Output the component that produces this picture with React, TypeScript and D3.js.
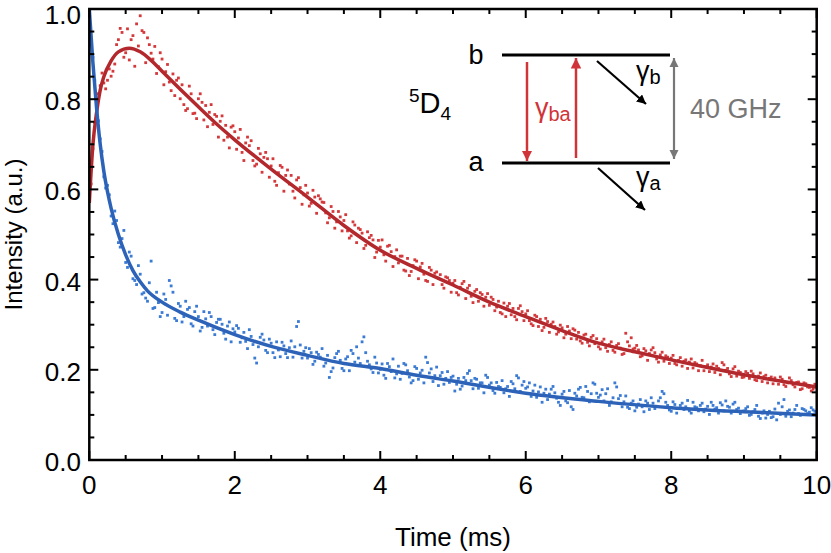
import React, { useRef, useEffect } from 'react';
import * as d3 from 'd3';

// sampling step of the measured traces (ms); second read-out is offset by half a step
const sampleStep = 0.05;

// measured intensity, level b (red), in thousandths, t = 0 .. 10 ms
const redScatter = [
  575, 690, 760, 830, 836, 842, 851, 878, 932, 948,
  903, 887, 941, 967, 985, 948, 936, 902, 917, 872,
  889, 861, 838, 856, 842, 801, 788, 779, 812, 769,
  801, 793, 786, 771, 744, 762, 751, 709, 716, 738,
  728, 714, 682, 703, 697, 664, 656, 679, 671, 668,
  652, 618, 637, 649, 631, 612, 596, 621, 604, 588,
  592, 569, 583, 586, 572, 548, 537, 551, 528, 539,
  531, 508, 497, 521, 514, 503, 476, 493, 488, 461,
  472, 455, 474, 462, 451, 437, 452, 419, 409, 431,
  441, 428, 412, 396, 421, 414, 403, 389, 406, 398,
  392, 371, 383, 396, 381, 363, 374, 352, 367, 361,
  343, 356, 339, 327, 348, 341, 322, 318, 336, 329,
  324, 309, 298, 318, 312, 294, 307, 301, 296, 284,
  293, 279, 286, 291, 268, 264, 277, 261, 272, 258,
  251, 262, 249, 256, 243, 254, 248, 236, 262, 271,
  248, 244, 231, 242, 236, 249, 224, 233, 219, 228,
  226, 214, 221, 208, 222, 217, 204, 213, 209, 198,
  211, 206, 194, 203, 216, 199, 191, 202, 186, 194,
  184, 192, 197, 178, 186, 174, 188, 181, 169, 176,
  184, 167, 171, 176, 162, 173, 158, 169, 161, 157,
  166,
];

// level b, read-out at t = 0.025 .. 9.975 ms
const redScatter2 = [
  612, 748, 812, 858, 823, 867, 862, 921, 957, 893,
  956, 932, 873, 918, 952, 881, 921, 889, 857, 903,
  832, 877, 819, 808, 847, 832, 775, 829, 768, 757,
  812, 754, 739, 788, 766, 716, 763, 742, 692, 741,
  689, 733, 664, 716, 708, 652, 691, 638, 682, 627,
  668, 609, 653, 596, 643, 631, 581, 626, 567, 609,
  563, 598, 547, 579, 571, 526, 562, 514, 551, 508,
  544, 492, 528, 482, 511, 469, 506, 498, 449, 487,
  488, 441, 476, 429, 466, 452, 421, 447, 418, 444,
  402, 436, 398, 427, 389, 417, 411, 381, 404, 372,
  398, 366, 391, 358, 387, 349, 378, 371, 341, 369,
  361, 331, 352, 324, 318, 347, 336, 311, 342, 309,
  331, 302, 321, 296, 287, 314, 283, 306, 279, 299,
  271, 296, 269, 288, 283, 259, 279, 253, 276, 269,
  246, 268, 241, 262, 239, 258, 234, 281, 253, 246,
  254, 229, 247, 221, 244, 238, 217, 239, 231, 214,
  232, 211, 227, 219, 203, 224, 216, 198, 221, 207,
  196, 213, 208, 189, 211, 203, 185, 207, 197, 183,
  196, 181, 191, 176, 193, 185, 171, 184, 182, 168,
  179, 163, 182, 167, 172, 156, 171, 162, 153, 168,
];

// measured intensity, level a (blue), in thousandths
const blueScatter = [
  985, 893, 771, 712, 628, 609, 541, 552, 482, 491,
  438, 461, 402, 389, 412, 371, 352, 441, 338, 349,
  327, 356, 398, 372, 309, 341, 318, 334, 302, 329,
  318, 294, 313, 327, 289, 305, 312, 281, 297, 262,
  284, 292, 271, 263, 289, 256, 215, 272, 266, 238,
  259, 227, 244, 261, 236, 249, 228, 296, 255, 241,
  226, 238, 219, 234, 247, 215, 183, 204, 236, 221,
  198, 229, 243, 217, 226, 262, 238, 211, 194, 215,
  201, 188, 214, 196, 182, 208, 192, 211, 184, 176,
  203, 193, 171, 216, 202, 187, 165, 194, 181, 172,
  186, 168, 157, 183, 192, 176, 181, 159, 171, 188,
  166, 154, 172, 161, 149, 163, 174, 158, 182, 166,
  159, 171, 153, 139, 162, 148, 134, 157, 149, 128,
  146, 131, 154, 112, 142, 161, 138, 152, 147, 168,
  139, 156, 147, 121, 138, 162, 143, 129, 117, 126,
  109, 124, 118, 131, 112, 126, 119, 138, 147, 121,
  108, 123, 114, 126, 118, 109, 128, 116, 121, 107,
  119, 128, 113, 104, 122, 131, 117, 124, 112, 103,
  109, 118, 101, 112, 97, 104, 93, 108, 96, 89,
  101, 134, 108, 96, 112, 103, 114, 109, 106, 111,
  104,
];

// level a, read-out at t = 0.025 .. 9.975 ms
const blueScatter2 = [
  927, 842, 752, 684, 603, 588, 524, 531, 472, 509,
  427, 452, 398, 431, 368, 359, 393, 336, 372, 318,
  368, 321, 386, 314, 347, 306, 352, 338, 297, 341,
  286, 329, 297, 318, 278, 312, 301, 268, 306, 291,
  298, 261, 283, 247, 274, 226, 251, 279, 243, 268,
  238, 262, 229, 253, 227, 264, 251, 307, 226, 249,
  247, 212, 239, 228, 208, 232, 196, 227, 241, 203,
  224, 198, 236, 251, 214, 273, 219, 202, 228, 193,
  213, 181, 207, 224, 191, 179, 214, 198, 171, 207,
  179, 199, 228, 193, 174, 206, 187, 168, 196, 183,
  153, 181, 164, 176, 198, 158, 179, 171, 149, 183,
  171, 148, 163, 176, 158, 141, 169, 187, 152, 174,
  162, 141, 166, 151, 128, 157, 146, 163, 137, 121,
  152, 127, 118, 148, 157, 139, 163, 129, 171, 148,
  144, 131, 158, 129, 171, 136, 118, 142, 114, 131,
  117, 134, 107, 126, 138, 114, 131, 152, 128, 111,
  129, 104, 121, 112, 132, 104, 118, 109, 126, 113,
  101, 121, 116, 127, 109, 119, 104, 128, 115, 108,
  114, 99, 107, 121, 92, 109, 101, 94, 113, 126,
  118, 97, 111, 104, 121, 99, 112, 103, 116, 108,
];

// fitted curves
const redFitT = [0, 0.05, 0.1, 0.15, 0.2, 0.3, 0.4, 0.55, 0.7, 0.85, 1, 1.25, 1.5, 1.75, 2, 2.5, 3, 3.5, 4, 4.5, 5, 5.5, 6, 6.5, 7, 7.5, 8, 8.5, 9, 9.5, 10];
const redFitV = [0.57, 0.7, 0.77, 0.82, 0.85, 0.885, 0.905, 0.913, 0.905, 0.886, 0.862, 0.822, 0.783, 0.745, 0.71, 0.645, 0.583, 0.52, 0.465, 0.425, 0.388, 0.35, 0.318, 0.287, 0.259, 0.24, 0.222, 0.205, 0.189, 0.175, 0.162];
const blueFitT = [0, 0.05, 0.1, 0.15, 0.2, 0.25, 0.3, 0.4, 0.5, 0.6, 0.7, 0.8, 1, 1.25, 1.5, 2, 2.5, 3, 3.5, 4, 4.5, 5, 6, 7, 8, 9, 10];
const blueFitV = [1.0, 0.88, 0.78, 0.7, 0.64, 0.595, 0.558, 0.5, 0.455, 0.42, 0.395, 0.375, 0.35, 0.328, 0.31, 0.278, 0.252, 0.232, 0.214, 0.203, 0.188, 0.175, 0.148, 0.13, 0.116, 0.107, 0.1];

const xTicks = [0, 2, 4, 6, 8, 10];
const yTicks = [0, 0.2, 0.4, 0.6, 0.8, 1.0];
const yTickLabels = ['0.0', '0.2', '0.4', '0.6', '0.8', '1.0'];

const W = 831;
const H = 553;
const FONT = 'Liberation Sans, Arial, Helvetica, sans-serif';

const App = () => {
  const ref = useRef<SVGSVGElement>(null);

  useEffect(() => {
    const svg = d3.select(ref.current);
    svg.selectAll('*').remove();

    const x = d3.scaleLinear().domain([0, 10]).range([89.3, 816.7]);
    const y = d3.scaleLinear().domain([0, 1]).range([460, 9]);
    const [x0, x1] = x.range();
    const [y0, y1] = y.range();

    const defs = svg.append('defs');
    const marker = (id: string, color: string) =>
      defs.append('marker')
        .attr('id', id)
        .attr('viewBox', '0 0 10 10')
        .attr('refX', 10).attr('refY', 5)
        .attr('markerWidth', 4.2).attr('markerHeight', 4.2)
        .attr('markerUnits', 'strokeWidth')
        .attr('orient', 'auto-start-reverse')
        .append('path')
        .attr('d', 'M0,0 L10,5 L0,10 Z')
        .attr('fill', color);
    marker('arRed', '#d03438');
    marker('arBlack', '#000');
    marker('arGray', '#777');

    defs.append('clipPath').attr('id', 'plotClip')
      .append('rect').attr('x', x0).attr('y', y1 - 2).attr('width', x1 - x0).attr('height', y0 - y1 + 2);

    const plot = svg.append('g').attr('clip-path', 'url(#plotClip)');

    const drawScatter = (vals: number[], offset: number, color: string) => {
      plot.append('g')
        .selectAll('rect')
        .data(vals)
        .enter()
        .append('rect')
        .attr('x', (d, i) => x(offset + i * sampleStep) - 1.4)
        .attr('y', d => y(d / 1000) - 1.4)
        .attr('width', 2.8)
        .attr('height', 2.8)
        .attr('fill', color);
    };
    drawScatter(redScatter, 0, '#d4393c');
    drawScatter(redScatter2, sampleStep / 2, '#d4393c');
    drawScatter(blueScatter, 0, '#3b7bd4');
    drawScatter(blueScatter2, sampleStep / 2, '#3b7bd4');

    const line = d3.line<[number, number]>()
      .x(d => x(d[0]))
      .y(d => y(d[1]))
      .curve(d3.curveMonotoneX);

    plot.append('path')
      .attr('d', line(redFitT.map((t, i) => [t, redFitV[i]] as [number, number])))
      .attr('fill', 'none').attr('stroke', '#b3282c').attr('stroke-width', 3.5);
    plot.append('path')
      .attr('d', line(blueFitT.map((t, i) => [t, blueFitV[i]] as [number, number])))
      .attr('fill', 'none').attr('stroke', '#2c62b8').attr('stroke-width', 3.5);

    // frame with inward ticks on all sides
    const axes = svg.append('g').attr('stroke', '#000');
    axes.append('rect')
      .attr('x', x0).attr('y', y1).attr('width', x1 - x0).attr('height', y0 - y1)
      .attr('fill', 'none').attr('stroke-width', 2.5);

    d3.range(0, 10.001, 0.5).forEach(v => {
      const len = xTicks.includes(v) ? 9 : 5;
      axes.append('line').attr('x1', x(v)).attr('x2', x(v)).attr('y1', y0).attr('y2', y0 - len).attr('stroke-width', 2);
      axes.append('line').attr('x1', x(v)).attr('x2', x(v)).attr('y1', y1).attr('y2', y1 + len).attr('stroke-width', 2);
    });
    d3.range(0, 1.0001, 0.05).forEach(v => {
      const major = yTicks.some(t => Math.abs(t - v) < 1e-6);
      const len = major ? 9 : 5;
      axes.append('line').attr('y1', y(v)).attr('y2', y(v)).attr('x1', x0).attr('x2', x0 + len).attr('stroke-width', 2);
      axes.append('line').attr('y1', y(v)).attr('y2', y(v)).attr('x1', x1).attr('x2', x1 - len).attr('stroke-width', 2);
    });

    const labels = svg.append('g').attr('font-family', FONT).attr('fill', '#000');
    labels.selectAll('.xt').data(xTicks).enter().append('text')
      .attr('x', d => x(d)).attr('y', 494)
      .attr('text-anchor', 'middle').attr('font-size', 26)
      .text(d => String(d));
    labels.selectAll('.yt').data(yTicks).enter().append('text')
      .attr('x', 81).attr('y', d => Math.max(y(d) + 11, 24))
      .attr('text-anchor', 'end').attr('font-size', 26)
      .text((d, i) => yTickLabels[i]);

    labels.append('text')
      .attr('x', x(5)).attr('y', 546)
      .attr('text-anchor', 'middle').attr('font-size', 26)
      .text('Time (ms)');
    labels.append('text')
      .attr('transform', `translate(22,${(y0 + y1) / 2}) rotate(-90)`)
      .attr('text-anchor', 'middle').attr('font-size', 24)
      .text('Intensity (a.u.)');

    // energy level inset
    const inset = svg.append('g').attr('font-family', FONT);
    inset.append('line').attr('x1', 502).attr('x2', 670).attr('y1', 55).attr('y2', 55).attr('stroke', '#000').attr('stroke-width', 3);
    inset.append('line').attr('x1', 502).attr('x2', 670).attr('y1', 163).attr('y2', 163).attr('stroke', '#000').attr('stroke-width', 3);
    inset.append('text').attr('x', 476).attr('y', 64).attr('text-anchor', 'middle').attr('font-size', 27).text('b');
    inset.append('text').attr('x', 476).attr('y', 171).attr('text-anchor', 'middle').attr('font-size', 27).text('a');

    const lvl = inset.append('text').attr('x', 409).attr('y', 113).attr('font-size', 29);
    lvl.append('tspan').attr('font-size', 19).attr('dy', -11).text('5');
    lvl.append('tspan').attr('dy', 11).text('D');
    lvl.append('tspan').attr('font-size', 19).attr('dy', 7).text('4');

    inset.append('line').attr('x1', 527).attr('x2', 527).attr('y1', 62).attr('y2', 161)
      .attr('stroke', '#d03438').attr('stroke-width', 2.5).attr('marker-end', 'url(#arRed)');
    inset.append('line').attr('x1', 576).attr('x2', 576).attr('y1', 158).attr('y2', 58)
      .attr('stroke', '#d03438').attr('stroke-width', 2.5).attr('marker-end', 'url(#arRed)');
    const gba = inset.append('text').attr('x', 535).attr('y', 117).attr('font-size', 27).attr('fill', '#d03438');
    gba.append('tspan').text('γ');
    gba.append('tspan').attr('font-size', 20).attr('dy', 4).text('ba');

    inset.append('line').attr('x1', 597).attr('y1', 61).attr('x2', 646).attr('y2', 104)
      .attr('stroke', '#000').attr('stroke-width', 2.2).attr('marker-end', 'url(#arBlack)');
    inset.append('line').attr('x1', 598).attr('y1', 168).attr('x2', 645).attr('y2', 210)
      .attr('stroke', '#000').attr('stroke-width', 2.2).attr('marker-end', 'url(#arBlack)');
    const gb = inset.append('text').attr('x', 636).attr('y', 80).attr('font-size', 27);
    gb.append('tspan').text('γ');
    gb.append('tspan').attr('font-size', 20).attr('dy', 4).text('b');
    const ga = inset.append('text').attr('x', 636).attr('y', 186).attr('font-size', 27);
    ga.append('tspan').text('γ');
    ga.append('tspan').attr('font-size', 20).attr('dy', 4).text('a');

    inset.append('line').attr('x1', 674).attr('x2', 674).attr('y1', 108).attr('y2', 58)
      .attr('stroke', '#777').attr('stroke-width', 2.2).attr('marker-end', 'url(#arGray)');
    inset.append('line').attr('x1', 674).attr('x2', 674).attr('y1', 108).attr('y2', 159)
      .attr('stroke', '#777').attr('stroke-width', 2.2).attr('marker-end', 'url(#arGray)');
    inset.append('text').attr('x', 690).attr('y', 118).attr('font-size', 27).attr('fill', '#777').text('40 GHz');
  }, []);

  return (
    <svg
      ref={ref}
      width={W}
      height={H}
      style={{ position: 'absolute', left: 0, top: 0, background: '#fff' }}
    />
  );
};

export default App;
